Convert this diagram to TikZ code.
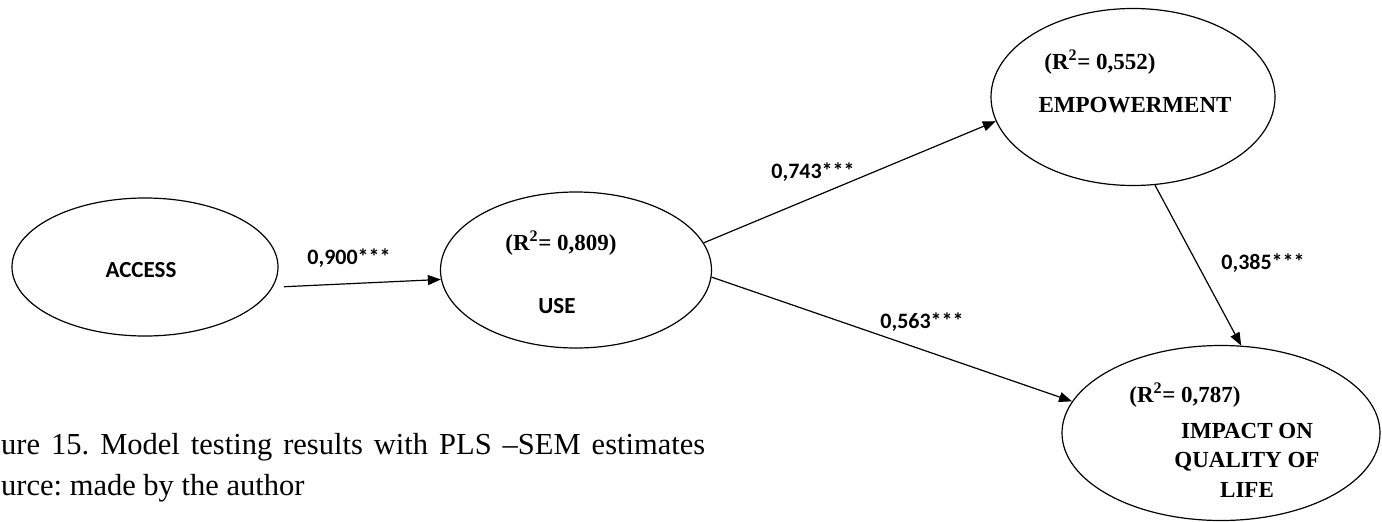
\documentclass[tikz,border=0pt]{standalone}
\usepackage{fontspec}
\setmainfont{Liberation Serif}
\newfontfamily\calibrifont{Carlito}
\usetikzlibrary{shapes.geometric, arrows.meta}

\begin{document}
\begin{tikzpicture}[x=1pt, y=-1pt,
    construct/.style={ellipse, draw, line width=1.2pt, inner sep=0pt},
    rsq/.style={inner sep=0pt, font=\fontsize{23}{28}\selectfont\bfseries},
    serifname/.style={inner sep=0pt, align=center, font=\fontsize{23}{29.5}\selectfont\bfseries},
    sansname/.style={inner sep=0pt, font=\fontsize{23}{28}\selectfont\calibrifont\bfseries},
    coef/.style={inner sep=0pt, font=\fontsize{22}{26}\selectfont\calibrifont\bfseries},
    capline/.style={inner sep=0pt, anchor=base west, font=\fontsize{30.5}{36}\selectfont\frenchspacing},
    arrow/.style={-{Triangle[length=13pt, width=10pt]}, line width=1.2pt}
  ]
    \useasboundingbox (0,0) rectangle (1382,522);

    \node[construct, minimum width=266pt, minimum height=138pt] (access) at (145,267) {};
    \node[construct, minimum width=271pt, minimum height=156pt] (use) at (576,270) {};
    \node[construct, minimum width=284pt, minimum height=177pt] (empower) at (1133,97) {};
    \node[construct, minimum width=318pt, minimum height=175pt] (impact) at (1221,433) {};

    \node[sansname] (accesslbl) at (141,270) {ACCESS};
    \node[rsq] (usersq) at (561,243) {(R\textsuperscript{2}= 0,809)};
    \node[sansname] (uselbl) at (557,306) {USE};
    \node[rsq] (empowerrsq) at (1100,62) {(R\textsuperscript{2}= 0,552)};
    \node[serifname] (empowerlbl) at (1135,105) {EMPOWERMENT};
    \node[rsq] (impactrsq) at (1185,395) {(R\textsuperscript{2}= 0,787)};
    \node[serifname] (impactlbl) at (1247,460) {IMPACT ON\\QUALITY OF\\LIFE};

    \draw[arrow, shorten <=11pt] (access.-9) -- (use.184);
    \draw[arrow] (use.12) -- (empower.190);
    \draw[arrow] (use.-3) -- (impact.168);
    \draw[arrow] (empower.-76) -- (impact.77);

    \node[coef] (c1) at (349,258) {0,900***};
    \node[coef] (c2) at (813,172) {0,743***};
    \node[coef] (c3) at (922,322) {0,563***};
    \node[coef] (c4) at (1263,263) {0,385***};

    \node[capline] (cap1) at (1,454) {\makebox[704pt][s]{ure 15. Model testing results with PLS \textendash SEM estimates}};
    \node[capline] (cap2) at (1,495) {urce: made by the author};

  \end{tikzpicture}
\end{document}
